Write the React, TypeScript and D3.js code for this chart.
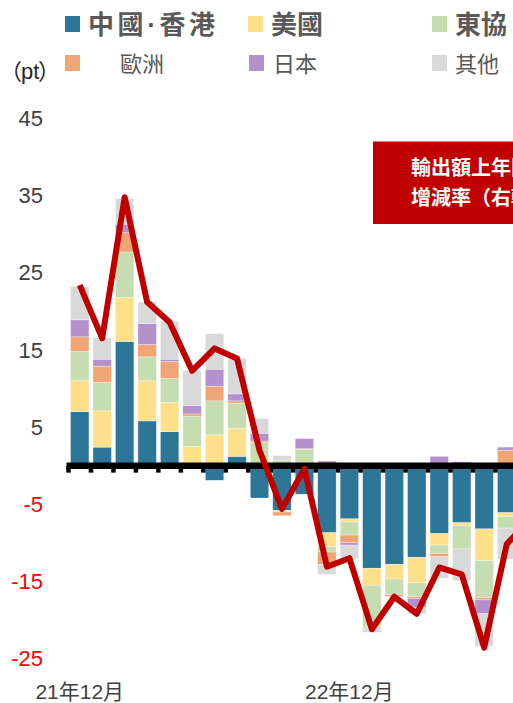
import React from "react";
import * as d3 from "d3";

// months shown on the x axis (Dec 2021 onward), only December is labelled
const months = [
  "21/12", "22/01", "22/02", "22/03", "22/04", "22/05", "22/06", "22/07",
  "22/08", "22/09", "22/10", "22/11", "22/12", "23/01", "23/02", "23/03",
  "23/04", "23/05", "23/06", "23/07", "23/08"
];
const monthLabels: Record<string, string> = { "21/12": "21年12月", "22/12": "22年12月" };

// contributions by region (pt)
const china = [7.0, 2.4, 16.1, 5.8, 4.4, 0, -1.9, 1.2, -4.2, -5.8, -3.7, -8.7, -6.9, -13.3, -12.8, -11.9, -8.8, -7.4, -8.2, -6.1, -5.0];
const usa = [4.0, 4.7, 5.7, 5.2, 3.8, 2.5, 4.0, 3.6, 0, -0.2, 0, -1.8, -0.4, -2.2, -1.9, -3.3, -1.5, -0.4, -4.1, -0.5, -0.5];
const asean = [3.8, 3.7, 5.9, 3.1, 3.1, 3.9, 4.4, 3.3, 3.0, 0.65, 2.1, -0.7, -1.7, -5.4, -2.0, -1.8, -1.1, -3.0, -4.8, -1.5, -1.0];
const europe = [1.9, 2.1, 2.5, 1.6, 2.2, 0.3, 1.9, 0.3, 0.2, -0.5, 0.1, -1.6, -1.0, 0, -0.3, -0.2, -0.4, 0, -0.3, 2.0, 1.5];
const japan = [2.2, 0.9, 1.1, 2.7, 0.3, 1.1, 2.2, 0.9, 1.0, 0, 1.3, 0.6, -0.3, 0, 0, -1.2, 1.2, 0.5, -1.8, 0.4, 0.3];
const other = [4.3, 2.8, 3.3, 2.8, 4.9, 4.5, 4.6, 4.6, 1.9, 0.65, 0, -1.3, -1.8, -0.7, -0.1, -0.8, -2.8, -4.1, -4.2, -4.0, -2.5];

// export value growth rate (line)
const growth = [23.4, 16.5, 34.8, 21.2, 18.6, 12.3, 15.2, 13.9, 2.0, -5.6, -0.4, -13.1, -12.0, -21.2, -17.0, -19.2, -13.2, -14.1, -23.6, -10.2, -7.0];

const yTicks = [45, 35, 25, 15, 5, -5, -15, -25];

const keys = ["china", "usa", "asean", "europe", "japan", "other"];
const names: Record<string, string> = {
  china: "中國·香港", usa: "美國", asean: "東協", europe: "歐洲", japan: "日本", other: "其他"
};
const colors: Record<string, string> = {
  china: "#2E7698", usa: "#FFE08A", asean: "#C5DDB0", europe: "#EFA674", japan: "#B490CC", other: "#D9D9D9"
};

const FONT = "'Liberation Sans', Arial, 'Noto Sans CJK TC', sans-serif";
const CJK = "'Noto Sans CJK TC', sans-serif";

export default function App() {
  const width = 513;
  const height = 703;

  const rows = months.map((m, i) => ({
    month: m,
    china: china[i], usa: usa[i], asean: asean[i],
    europe: europe[i], japan: japan[i], other: other[i]
  }));

  const series = d3.stack<any>().keys(keys).offset(d3.stackOffsetDiverging)(rows);

  const x = d3.scaleBand()
    .domain(months)
    .range([68.5, 68.5 + months.length * 22.47])
    .paddingInner(0.18)
    .paddingOuter(0.09);

  const y = d3.scaleLinear().domain([-25, 45]).range([658.5, 118.5]);

  const gap = (x.step() - x.bandwidth()) / 2;
  const y0 = y(0);

  const line = d3.line<number>()
    .x((d, i) => x(months[i])! + x.bandwidth() / 2)
    .y(d => y(d));

  const legendRow1 = [
    { key: "china", rx: 65, tx: 88, len: 127 },
    { key: "usa", rx: 248, tx: 271 },
    { key: "asean", rx: 432, tx: 455 }
  ];
  const legendRow2 = [
    { key: "europe", rx: 65, tx: 120 },
    { key: "japan", rx: 249, tx: 273 },
    { key: "other", rx: 432, tx: 455 }
  ];

  return (
    <div style={{ position: "absolute", left: 0, top: 0, width, height, overflow: "hidden", background: "#fff" }}>
      <svg width={width} height={height} style={{ display: "block" }} fontFamily={FONT}>
        {/* legend */}
        {legendRow1.map(d => (
          <g key={d.key}>
            <rect x={d.rx} y={16} width={15} height={16} fill={colors[d.key]} />
            <text x={d.tx} y={34} fontSize={26} fontWeight="bold" fill="#595959"
              textLength={d.len} lengthAdjust={d.len ? "spacing" : undefined}>
              {names[d.key]}
            </text>
          </g>
        ))}
        {legendRow2.map(d => (
          <g key={d.key}>
            <rect x={d.rx} y={55} width={15} height={16} fill={colors[d.key]} />
            <text x={d.tx} y={72} fontSize={22} fill="#595959">{names[d.key]}</text>
          </g>
        ))}

        {/* unit */}
        <text y={79} fontSize={22} fill="#262626">
          <tspan x={0} fontFamily={CJK}>（</tspan>
          <tspan x={21}>pt</tspan>
          <tspan x={38} fontFamily={CJK}>）</tspan>
        </text>

        {/* y tick labels */}
        {yTicks.map(t => (
          <text key={t} x={43} y={y(t)} dy="0.35em" textAnchor="end" fontSize={22}
            fill={t < 0 ? "#FF0000" : "#404040"}>
            {t}
          </text>
        ))}

        {/* stacked bars */}
        {series.map(s => (
          <g key={s.key} fill={colors[s.key]}>
            {s.map((d, i) => {
              const top = y(Math.max(d[0], d[1]));
              const h = Math.abs(y(d[0]) - y(d[1]));
              if (h < 0.01) return null;
              return (
                <rect key={i} x={x(months[i])} y={top} width={x.bandwidth()} height={h}
                  stroke="#ffffff" strokeOpacity={0.5} strokeWidth={0.6} />
              );
            })}
          </g>
        ))}

        {/* zero line with ticks */}
        <line x1={66.5} x2={width + 20} y1={y0} y2={y0} stroke="#000" strokeWidth={6.5} />
        {months.map(m => (
          <line key={m} x1={x(m)! - gap} x2={x(m)! - gap} y1={y0} y2={y0 + 7}
            stroke="#000" strokeWidth={4.5} />
        ))}

        {/* x labels */}
        {months.filter(m => monthLabels[m]).map(m => (
          <text key={m} x={x(m)! + x.bandwidth() / 2} y={699} textAnchor="middle" fontSize={21} fill="#404040">
            {monthLabels[m]}
          </text>
        ))}

        {/* growth rate line */}
        <path d={line(growth) || ""} fill="none" stroke="#C00000" strokeWidth={6} strokeLinejoin="round" />

        {/* line label box (runs off the right edge, as in the source) */}
        <rect x={373} y={141.5} width={260} height={82.5} fill="#C00000" />
        <text x={411} y={175} fontSize={20} fontWeight="bold" fill="#fff" fontFamily={CJK}>輸出額上年同月比</text>
        <text x={411} y={205} fontSize={20} fontWeight="bold" fill="#fff" fontFamily={CJK}>增減率（右軸）</text>
      </svg>
    </div>
  );
}
